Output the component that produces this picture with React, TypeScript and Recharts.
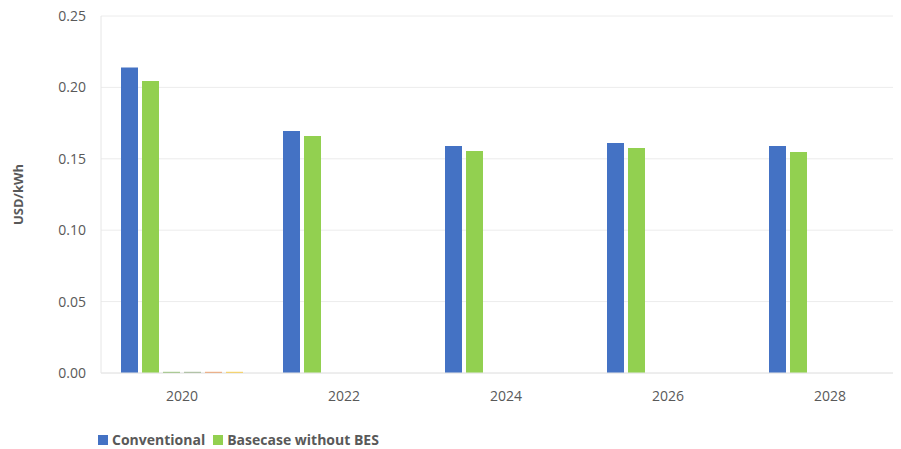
import { BarChart, Bar, XAxis, YAxis, CartesianGrid, Label } from 'recharts'

const years = ['2020', '2022', '2024', '2026', '2028']
const conventional = [0.214, 0.1695, 0.159, 0.161, 0.159]
const basecase = [0.2045, 0.166, 0.1555, 0.1575, 0.1548]
// minor scenarios only carry a trace value in the first year
const scenarioA = [0.0008, null, null, null, null]
const scenarioB = [0.0008, null, null, null, null]
const scenarioC = [0.0008, null, null, null, null]
const scenarioD = [0.0008, null, null, null, null]
const yTicks = [0, 0.05, 0.1, 0.15, 0.2, 0.25]

const data = years.map((year, i) => ({
  year,
  conventional: conventional[i],
  basecase: basecase[i],
  a: scenarioA[i],
  b: scenarioB[i],
  c: scenarioC[i],
  d: scenarioD[i],
}))

const FONT = '"Open Sans", sans-serif'
const TEXT = '#595959'

const legendItems = [
  { name: 'Conventional', color: '#4472C4' },
  { name: 'Basecase without BES', color: '#92D050' },
]

export default function App() {
  return (
    <div style={{ position: 'relative', width: 893, height: 441, overflow: 'hidden', fontFamily: FONT }}>
      <BarChart
        width={901}
        height={441}
        data={data}
        margin={{ top: 8, right: -2, bottom: 46, left: 0 }}
        barGap={4}
        barSize={17}
      >
        <CartesianGrid vertical={false} stroke="#ececec" />
        <XAxis
          dataKey="year"
          tickLine={false}
          axisLine={{ stroke: '#e6e6e6' }}
          tickMargin={12}
          height={30}
          tick={{ fill: TEXT, fontSize: 14, fontFamily: FONT }}
        />
        <YAxis
          width={93}
          domain={[0, 0.25]}
          ticks={yTicks}
          tickFormatter={(v: number) => v.toFixed(2)}
          tickLine={false}
          axisLine={{ stroke: '#e6e6e6' }}
          tickMargin={9}
          tick={{ fill: TEXT, fontSize: 14, fontFamily: FONT }}
        >
          <Label
            value="USD/kWh"
            angle={-90}
            position="insideLeft"
            offset={10}
            style={{ fill: TEXT, fontSize: 13, fontWeight: 700, fontFamily: FONT, textAnchor: 'middle' }}
          />
        </YAxis>
        <Bar dataKey="conventional" fill="#4472C4" isAnimationActive={false} />
        <Bar dataKey="basecase" fill="#92D050" isAnimationActive={false} />
        <Bar dataKey="a" fill="#70AD47" isAnimationActive={false} />
        <Bar dataKey="b" fill="#7F9F6A" isAnimationActive={false} />
        <Bar dataKey="c" fill="#ED7D31" isAnimationActive={false} />
        <Bar dataKey="d" fill="#FFC000" isAnimationActive={false} />
      </BarChart>
      <div style={{ position: 'absolute', left: 90, top: 422, display: 'flex', gap: 8 }}>
        {legendItems.map((item) => (
          <div key={item.name} style={{ display: 'flex', alignItems: 'center', gap: 4 }}>
            <span style={{ width: 10, height: 10, background: item.color, display: 'inline-block' }} />
            <span style={{ color: TEXT, fontSize: 14, fontWeight: 700 }}>{item.name}</span>
          </div>
        ))}
      </div>
    </div>
  )
}
